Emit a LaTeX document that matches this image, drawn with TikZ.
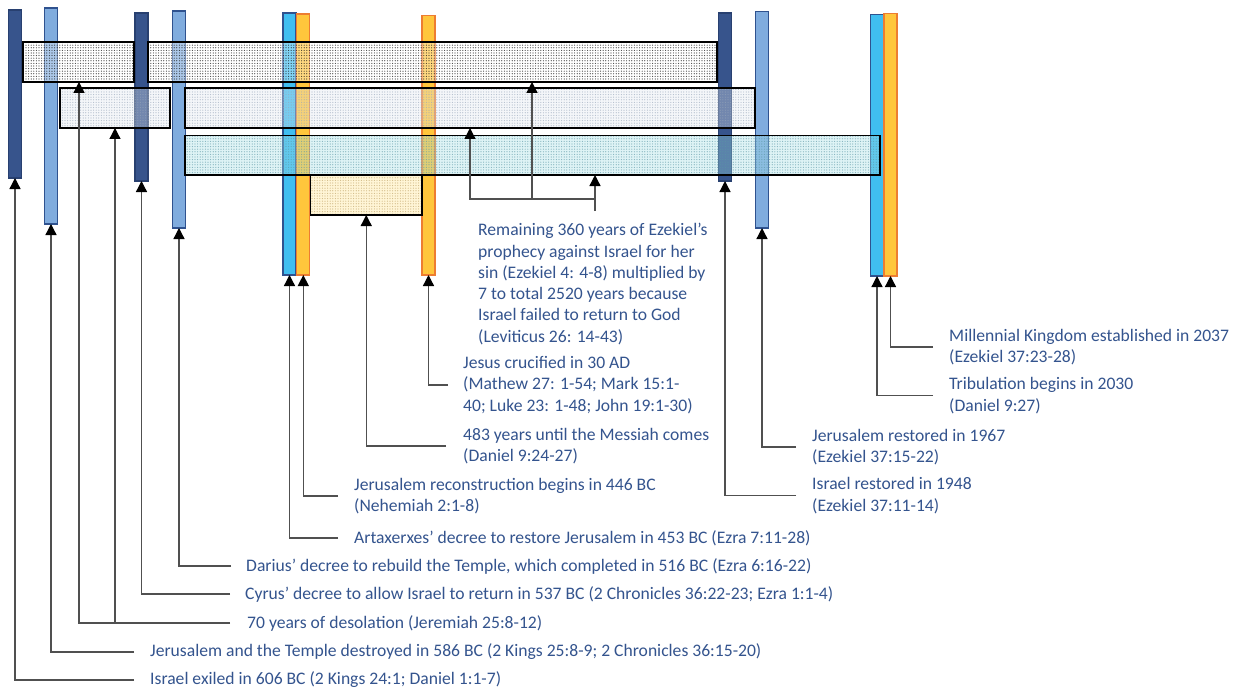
\documentclass[tikz,border=0pt]{standalone}
\usepackage{fontspec}
\setmainfont{Carlito}
\usetikzlibrary{arrows.meta,patterns.meta,calc}
\definecolor{txtc}{RGB}{52,84,142}
\definecolor{lnc}{RGB}{80,80,80}
\definecolor{dbfill}{RGB}{55,84,140}
\definecolor{dbdraw}{RGB}{40,64,112}
\definecolor{lbfill}{RGB}{128,172,222}
\definecolor{bdraw}{RGB}{47,82,143}
\definecolor{cyfill}{RGB}{64,190,240}
\definecolor{orfill}{RGB}{255,198,60}
\definecolor{ordraw}{RGB}{237,125,49}
\definecolor{bxone}{RGB}{255,255,255}
\definecolor{bxtwo}{RGB}{225,232,238}
\definecolor{bxthree}{RGB}{161,221,229}
\definecolor{bxfour}{RGB}{255,229,140}
\definecolor{dtone}{RGB}{20,20,20}
\definecolor{dttwo}{RGB}{150,165,185}
\definecolor{dtthree}{RGB}{90,150,165}
\definecolor{dtfour}{RGB}{190,160,100}
\begin{document}
\begin{tikzpicture}[x=1pt,y=-1pt,
  bar/.style={rectangle, anchor=north, minimum width=13pt, inner sep=0pt, outer sep=0pt, line width=1.2pt},
  dbar/.style={bar, fill=dbfill, draw=dbdraw},
  lbar/.style={bar, fill=lbfill, draw=bdraw},
  cbar/.style={bar, fill=cyfill, draw=bdraw},
  obar/.style={bar, fill=orfill, draw=ordraw},
  pbox/.style n args={3}{rectangle, anchor=north west, inner sep=0pt, outer sep=0pt,
    draw=black, line width=1.6pt, fill=#1, fill opacity=0.35,
    path picture={\fill[fill opacity=#3, pattern={Dots[radius=0.6pt,distance=2.6pt]}, pattern color=#2]
      (path picture bounding box.south west) rectangle (path picture bounding box.north east);}},
  conn/.style={draw=lnc, line width=1.3pt, -{Triangle[width=11pt,length=11pt,color=black]}},
  lbl/.style={font=\fontsize{17.6}{21.3}\selectfont, text=txtc, align=left, anchor=west, inner sep=0pt}
]
\useasboundingbox (0,0) rectangle (1239,690);
\fill[white] (0,0) rectangle (1239,690);

% vertical bars
\node[dbar, minimum height=168pt] (A) at (15,10) {};
\node[lbar, minimum height=216pt] (B) at (51,8) {};
\node[dbar, minimum height=168pt] (C) at (141.5,13) {};
\node[lbar, minimum height=217pt] (D) at (179,11) {};
\node[cbar, minimum height=262pt] (E) at (289.5,13) {};
\node[obar, minimum height=261pt] (F) at (303.3,14) {};
\node[obar, minimum height=259.5pt] (G) at (428.5,15.5) {};
\node[dbar, minimum height=168pt] (H) at (725,13) {};
\node[lbar, minimum height=216.5pt] (I) at (762,11.5) {};
\node[cbar, minimum height=261.5pt] (J) at (877,14.5) {};
\node[obar, minimum height=262.5pt] (K) at (890.5,13.5) {};

% period boxes
\node[pbox={bxone}{dtone}{0.8}, minimum width=111pt, minimum height=40pt] (b1a) at (23,42) {};
\node[pbox={bxone}{dtone}{0.8}, minimum width=569pt, minimum height=40pt] (b1b) at (148,42) {};
\node[pbox={bxtwo}{dttwo}{0.7}, minimum width=110pt, minimum height=40pt] (b2a) at (60,88) {};
\node[pbox={bxtwo}{dttwo}{0.7}, minimum width=570pt, minimum height=40pt] (b2b) at (185,88) {};
\node[pbox={bxthree}{dtthree}{0.7}, minimum width=695pt, minimum height=39.5pt] (b3) at (185,135.5) {};
\node[pbox={bxfour}{dtfour}{0.7}, minimum width=111.5pt, minimum height=39.5pt] (b4) at (310.5,175.5) {};

% labels
\node[lbl] (l1) at (150,680) {Israel exiled in 606 BC (2 Kings 24:1; Daniel 1:1-7)};
\node[lbl] (l2) at (150,652) {Jerusalem and the Temple destroyed in 586 BC (2 Kings 25:8-9; 2 Chronicles 36:15-20)};
\node[lbl] (l3) at (247,623) {70 years of desolation (Jeremiah 25:8-12)};
\node[lbl] (l4) at (245,594) {Cyrus’ decree to allow Israel to return in 537 BC (2 Chronicles 36:22-23; Ezra 1:1-4)};
\node[lbl] (l5) at (246,566) {Darius’ decree to rebuild the Temple, which completed in 516 BC (Ezra 6:16-22)};
\node[lbl] (l6) at (354,538) {Artaxerxes’ decree to restore Jerusalem in 453 BC (Ezra 7:11-28)};
\node[lbl] (l7) at (354,496) {Jerusalem reconstruction begins in 446 BC\\(Nehemiah 2:1-8)};
\node[lbl] (l8) at (463,446) {483 years until the Messiah comes\\(Daniel 9:24-27)};
\node[lbl] (l9) at (463,385) {Jesus crucified in 30 AD\\(Mathew 27: 1-54; Mark 15:1-\\40; Luke 23: 1-48; John 19:1-30)};
\node[lbl] (l10) at (478,284) {Remaining 360 years of Ezekiel’s\\prophecy against Israel for her\\sin (Ezekiel 4: 4-8) multiplied by\\7 to total 2520 years because\\Israel failed to return to God\\(Leviticus 26: 14-43)};
\node[lbl] (l11) at (812,495.5) {Israel restored in 1948\\(Ezekiel 37:11-14)};
\node[lbl] (l12) at (812,447) {Jerusalem restored in 1967\\(Ezekiel 37:15-22)};
\node[lbl] (l13) at (949,395.5) {Tribulation begins in 2030\\(Daniel 9:27)};
\node[lbl] (l14) at (949,347) {Millennial Kingdom established in 2037\\(Ezekiel 37:23-28)};

% connectors
\draw[conn] ($(l1.west)+(-16,0)$) -| (A.south);
\draw[conn] ($(l2.west)+(-16,0)$) -| (B.south);
\coordinate (t70a) at ($(b1a.south west)+(56,0)$);
\coordinate (t70b) at ($(b2a.south west)+(55,0)$);
\draw[conn] ($(l3.west)+(-17,0)$) -| (t70a);
\draw[conn] (t70b |- l3.west) -- (t70b);
\draw[conn] ($(l4.west)+(-15,0)$) -| (C.south);
\draw[conn] ($(l5.west)+(-15,0)$) -| (D.south);
\draw[conn] ($(l6.west)+(-16,0)$) -| (E.south);
\draw[conn] ($(l7.west)+(-16,0)$) -| (F.south);
\draw[conn] ($(l8.west)+(-17,0)$) -| (b4.south);
\draw[conn] ($(l9.west)+(-15,0)$) -| (G.south);
\coordinate (jr) at (595,199);
\coordinate (r3) at (jr |- b3.south);
\coordinate (r2) at ($(b2b.south west)+(285,0)$);
\coordinate (r1) at ($(b1b.south west)+(384,0)$);
\draw[conn] ($(jr)+(0,12)$) -- (r3);
\draw[conn] (jr) -| (r2);
\draw[conn] (r1 |- jr) -- (r1);
\draw[conn] ($(l11.west)+(-16,0)$) -| (H.south);
\draw[conn] ($(l12.west)+(-16,0)$) -| (I.south);
\draw[conn] ($(l13.west)+(-16,0)$) -| (J.south);
\draw[conn] ($(l14.west)+(-16,0)$) -| (K.south);
\end{tikzpicture}
\end{document}
